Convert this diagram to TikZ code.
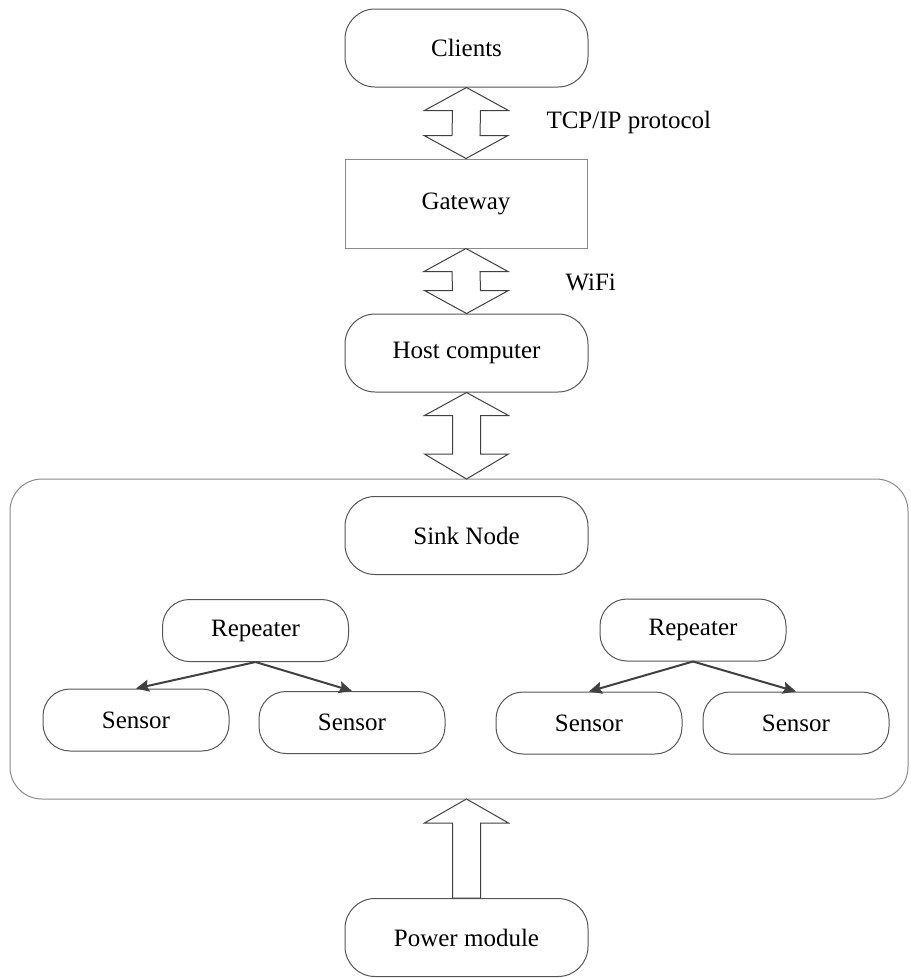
\documentclass[tikz,border=0pt]{standalone}
\usepackage{fontspec}
\setmainfont{Liberation Serif}
\usetikzlibrary{calc,arrows.meta}

\definecolor{edge}{HTML}{555555}
\definecolor{lightedge}{HTML}{8A8A8A}
\definecolor{link}{HTML}{404040}

\tikzset{
  label text/.style={font=\fontsize{25}{30}\selectfont, text=black},
  bigcap/.style={draw=edge, line width=1pt, rounded corners=30pt,
    minimum width=243pt, minimum height=78pt, inner sep=0pt, label text},
  gatebox/.style={draw=lightedge, line width=1pt,
    minimum width=242pt, minimum height=89pt, inner sep=0pt, label text},
  smallcap/.style={draw=edge, line width=1pt, rounded corners=27pt,
    minimum width=186pt, minimum height=62pt, inner sep=0pt, label text},
  container/.style={draw=lightedge, line width=1pt, rounded corners=32pt},
  blockarrow/.style={draw=link, line width=1pt, fill=white, line join=miter},
  treelink/.style={draw=link, line width=2pt,
    -{Stealth[length=13pt,width=12pt,inset=2pt]}},
}

% double-headed block arrow between the bottom of #1 and the top of #2
\newcommand{\twowayarrow}[2]{%
  \path[blockarrow] (#1.south)
    -- ($(#1.south)+(42,23)$) -- ($(#1.south)+(14,23)$)
    -- ($(#2.north)+(14,-23)$) -- ($(#2.north)+(42,-23)$)
    -- (#2.north)
    -- ($(#2.north)+(-42,-23)$) -- ($(#2.north)+(-14,-23)$)
    -- ($(#1.south)+(-14,23)$) -- ($(#1.south)+(-42,23)$) -- cycle;}

\begin{document}
\begin{tikzpicture}[x=1pt,y=-1pt]
\useasboundingbox (0,0) rectangle (911,978);

% sensor network enclosure
\draw[container] (10,479) rectangle (908,799);

% upper chain
\node[bigcap] (clients) at (466.5,48)  {Clients};
\node[gatebox] (gateway) at (466,203.5) {Gateway};
\node[bigcap] (host)    at (466.5,353) {Host computer};
\coordinate (nettop) at (466.5,479);

\twowayarrow{clients}{gateway}
\twowayarrow{gateway}{host}
\path[blockarrow] (host.south)
    -- ($(host.south)+(42,23)$) -- ($(host.south)+(14,23)$)
    -- ($(nettop)+(14,-25)$) -- ($(nettop)+(42,-25)$)
    -- (nettop)
    -- ($(nettop)+(-42,-25)$) -- ($(nettop)+(-14,-25)$)
    -- ($(host.south)+(-14,23)$) -- ($(host.south)+(-42,23)$) -- cycle;

\node[label text, anchor=west] (tcp)  at (543,122) {TCP/IP protocol};
\node[label text, anchor=west] (wifi) at (562,282) {WiFi};

% nodes inside the enclosure
\node[bigcap] (sink) at (466.5,535.5) {Sink Node};

\node[smallcap] (repL) at (255.5,630.5) {Repeater};
\node[smallcap] (senLa) at (136,720) {Sensor};
\node[smallcap] (senLb) at (352,722.5) {Sensor};

\node[smallcap] (repR) at (693,630) {Repeater};
\node[smallcap] (senRa) at (589,723) {Sensor};
\node[smallcap] (senRb) at (796,723) {Sensor};

\draw[treelink] (repL.south) -- (senLa.north);
\draw[treelink] (repL.south) -- (senLb.north);
\draw[treelink] (repR.south) -- (senRa.north);
\draw[treelink] (repR.south) -- (senRb.north);

% power supply
\node[bigcap] (power) at (466.5,937.5) {Power module};
\coordinate (netbottom) at (466.5,799);
\path[blockarrow] (netbottom)
    -- ($(netbottom)+(42,24)$) -- ($(netbottom)+(14,24)$)
    -- ($(power.north)+(14,0)$) -- ($(power.north)+(-14,0)$)
    -- ($(netbottom)+(-14,24)$) -- ($(netbottom)+(-42,24)$) -- cycle;
\end{tikzpicture}
\end{document}
